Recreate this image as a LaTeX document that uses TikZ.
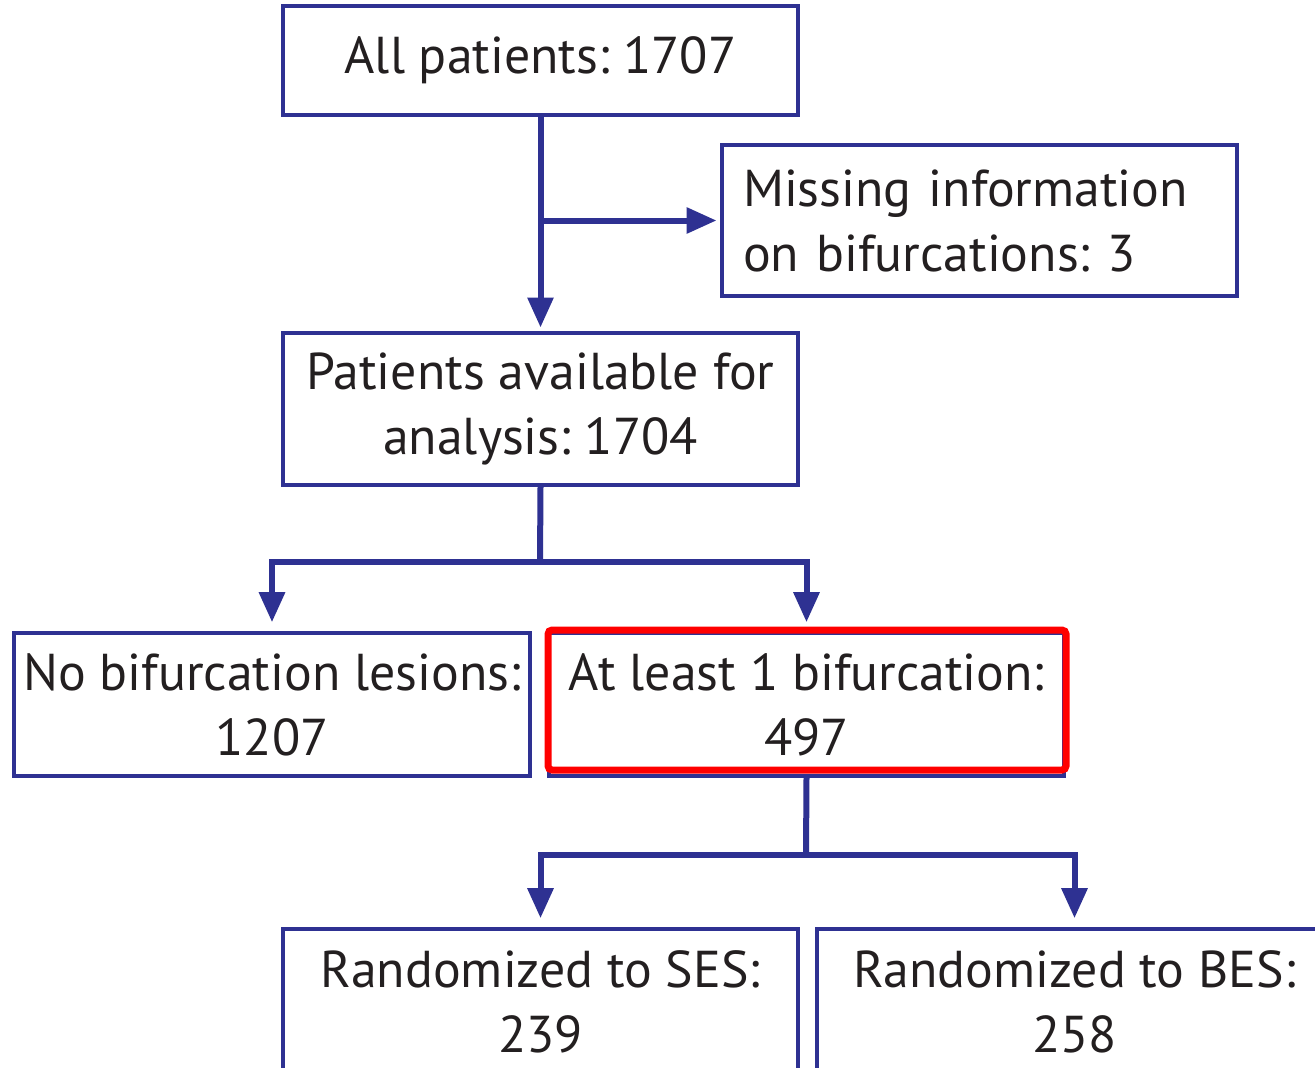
\documentclass[tikz,border=0pt]{standalone}
\usepackage{fontspec}
\setmainfont{PT Sans}
\usetikzlibrary{arrows.meta,calc}
\definecolor{navy}{RGB}{46,49,146}
\definecolor{txt}{RGB}{35,31,32}
\frenchspacing
\begin{document}
\begin{tikzpicture}[x=0.02cm,y=-0.02cm,
  box/.style={draw=navy,line width=0.08cm,minimum width=10.3cm,align=center,
    text=txt,font=\fontsize{29.5}{37}\selectfont\frenchspacing,inner sep=0pt},
  conn/.style={draw=navy,line width=0.12cm,-{Triangle[length=0.6cm,width=0.5cm]}},
  seg/.style={draw=navy,line width=0.12cm}]
\useasboundingbox[fill=white] (0,0) rectangle (1315,1068);
\node[box,minimum height=2.18cm] (A) at (540.5,60.5) {All patients: 1707};
\node[box,minimum height=3.02cm,text width=9.46cm,align=left,inner xsep=0.42cm] (M) at (979.5,220.5) {Missing information\\on bifurcations: 3};
\node[box,minimum height=3.04cm] (P) at (540.5,409) {Patients available for\\analysis: 1704};
\node[box,minimum height=2.86cm,minimum width=10.32cm] (N) at (272,704.5) {No bifurcation lesions:\\1207};
\node[box,minimum height=2.86cm] (B) at (806.5,704.5) {At least 1 bifurcation:\\497};
\node[box,minimum height=2.9cm,anchor=north] (S) at (540.5,927) {Randomized to SES:\\239};
\node[box,minimum height=2.9cm,anchor=north] (R) at (1074.5,927) {Randomized to BES:\\258};
% connectors
\draw[conn,shorten >=2pt] (A.south) -- (P.north);
\draw[conn,shorten >=2pt] (A.south |- M.west) -- (M.west);
\coordinate (j1) at (540,562);
\draw[seg] (P.south) -- (j1);
\draw[conn,shorten >=5pt] (j1) -| (N.north);
\draw[conn,shorten >=5pt] (j1) -| (B.north);
\coordinate (j2) at (806,855);
\draw[seg] (B.south) -- (j2);
\draw[conn,shorten >=5pt] (j2) -| (S.north);
\draw[conn,shorten >=5pt] (j2) -| (R.north);
% highlight
\draw[red,line width=0.14cm,rounded corners=0.08cm] ([xshift=0.02cm,yshift=0.02cm]B.north west) rectangle (1066,770);
\end{tikzpicture}
\end{document}
